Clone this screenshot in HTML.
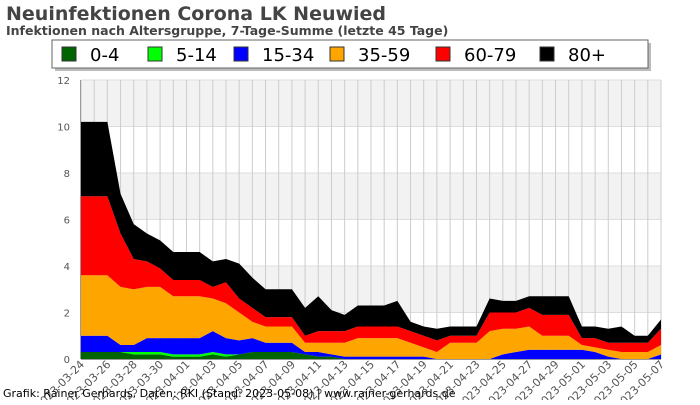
<!DOCTYPE html>
<html><head><meta charset="utf-8"><style>
body{margin:0;background:#fff;}
svg text{font-family:"DejaVu Sans","Liberation Sans",sans-serif;}
</style></head><body>
<svg id="c" width="700" height="400" xmlns="http://www.w3.org/2000/svg">
<text x="6" y="20" font-size="19" font-weight="bold" fill="#444">Neuinfektionen Corona LK Neuwied</text>
<text x="6" y="35" font-size="12.5" font-weight="bold" fill="#444">Infektionen nach Altersgruppe, 7-Tage-Summe (letzte 45 Tage)</text>
<g id="plot"></g>
<g id="xl"></g>
<g id="yl"></g>
<rect x="55" y="43" width="596" height="28" fill="#bbb"/>
<rect x="52" y="40" width="596" height="28" fill="#fff" stroke="#666"/>
<g id="leg"></g>
<text x="3" y="397" font-size="11" fill="#000">Grafik: Rainer Gerhards, Daten: RKI (Stand: 2023-05-08) | www.rainer-gerhards.de</text>
</svg>
<script>
const dates=[];
(function(){let d=new Date(Date.UTC(2023,2,24));for(let i=0;i<45;i++){dates.push(d.toISOString().slice(0,10));d.setUTCDate(d.getUTCDate()+1);}})();
const seriesNames=["0-4","5-14","15-34","35-59","60-79","80+"];
const seriesColors=["#006400","#00ff00","#0000ff","#ffa500","#ff0000","#000000"];
const g04=[.3,.3,.3,.3,.2,.2,.2,.1,.1,.1,.2,.1,.2,.3,.3,.3,.3,.2,.1,.1,0,0,0,0,0,0,0,0,0,0,0,0,0,0,0,0,0,0,0,0,0,0,0,0,0];
const g514=[0,0,0,0,.1,.1,.1,.1,.1,.1,.1,.1,0,0,0,0,0,0,0,0,0,0,0,0,0,0,0,0,0,0,0,0,0,0,0,0,0,0,0,0,0,0,0,0,0];
const g1534=[.7,.7,.7,.3,.3,.6,.6,.7,.7,.7,.9,.7,.6,.6,.4,.4,.4,.1,.2,.1,.1,.1,.1,.1,.1,.1,.1,0,0,0,0,0,.2,.3,.4,.4,.4,.4,.4,.3,.1,0,0,0,.2];
const g3559=[2.6,2.6,2.6,2.5,2.4,2.2,2.2,1.8,1.8,1.8,1.4,1.5,1.2,.7,.7,.7,.7,.4,.4,.5,.6,.8,.8,.8,.8,.6,.4,.3,.7,.7,.7,1.2,1.1,1.0,1.0,.6,.6,.6,.2,.2,.3,.3,.3,.3,.4];
const g6079=[3.4,3.4,3.4,2.3,1.3,1.1,.8,.7,.7,.7,.5,.9,.6,.6,.4,.4,.4,.3,.5,.5,.5,.5,.5,.5,.5,.5,.5,.5,.3,.3,.3,.8,.7,.7,.8,.9,.9,.9,.3,.4,.3,.4,.4,.4,.7];
const g80=[3.2,3.2,3.2,1.7,1.5,1.2,1.2,1.2,1.2,1.2,1.1,1.0,1.5,1.3,1.2,1.2,1.2,1.2,1.5,.9,.7,.9,.9,.9,1.1,.4,.4,.5,.4,.4,.4,.6,.5,.5,.5,.8,.8,.8,.5,.5,.6,.7,.3,.3,.4];
const yTicks=[0,2,4,6,8,10,12];
const series=[g04,g514,g1534,g3559,g6079,g80];
const NS="http://www.w3.org/2000/svg";
const X0=81,X1=661,Y0=359,Y1=80,YMAX=12;
const xs=i=>X0+(X1-X0)*i/(dates.length-1);
const ys=v=>Y0-(Y0-Y1)*v/YMAX;
function mk(t,a,p){const e=document.createElementNS(NS,t);for(const k in a)e.setAttribute(k,a[k]);p.appendChild(e);return e;}
const plot=document.getElementById('plot');
for(let i=0;i<yTicks.length-1;i++){if(i%2==1){const b=mk('rect',{x:X0,y:ys(yTicks[i+1]),width:X1-X0,height:ys(yTicks[i])-ys(yTicks[i+1]),fill:'#f2f2f2'},plot);}}
yTicks.forEach(t=>{const l=mk('line',{x1:X0,x2:X1,y1:ys(t),y2:ys(t),stroke:'#ddd'},plot);
const tx=mk('text',{x:70,y:ys(t)+4,'font-size':10,fill:'#555','text-anchor':'end'},document.getElementById('yl'));tx.textContent=t;});
dates.forEach((d,i)=>{const l=mk('line',{x1:xs(i),x2:xs(i),y1:Y1,y2:Y0,stroke:'#ccc'},plot);});
let base=dates.map(()=>0);
series.forEach((s,k)=>{const top=base.map((b,i)=>b+s[i]);let pts=top.map((v,i)=>xs(i)+','+ys(v));for(let i=dates.length-1;i>=0;i--)pts.push(xs(i)+','+ys(base[i]));
const p=mk('polygon',{points:pts.join(' '),fill:seriesColors[k]},plot);base=top;});
const ax=mk('line',{x1:X0-0.5,x2:X0-0.5,y1:Y1,y2:Y0,stroke:'#999'},plot);
const ax2=mk('line',{x1:X0,x2:X1,y1:Y0+0.5,y2:Y0+0.5,stroke:'#999'},plot);
const xl=document.getElementById('xl');
dates.forEach((d,i)=>{if(i%2)return;const x=xs(i)+4,y=Y0+6;const t=mk('text',{x:x,y:y,'font-size':11,fill:'#555','text-anchor':'end',transform:'rotate(-45 '+x+' '+y+')'},xl);t.textContent=d;});
const leg=document.getElementById('leg');const lx=[62,148,234,330,436,540];
seriesNames.forEach((n,k)=>{const r=mk('rect',{x:lx[k],y:47,width:14,height:14,fill:seriesColors[k],stroke:'#333'},leg);
const t=mk('text',{x:lx[k]+28,y:61,'font-size':18,fill:'#000'},leg);t.textContent=n;});
</script>
</body></html>
